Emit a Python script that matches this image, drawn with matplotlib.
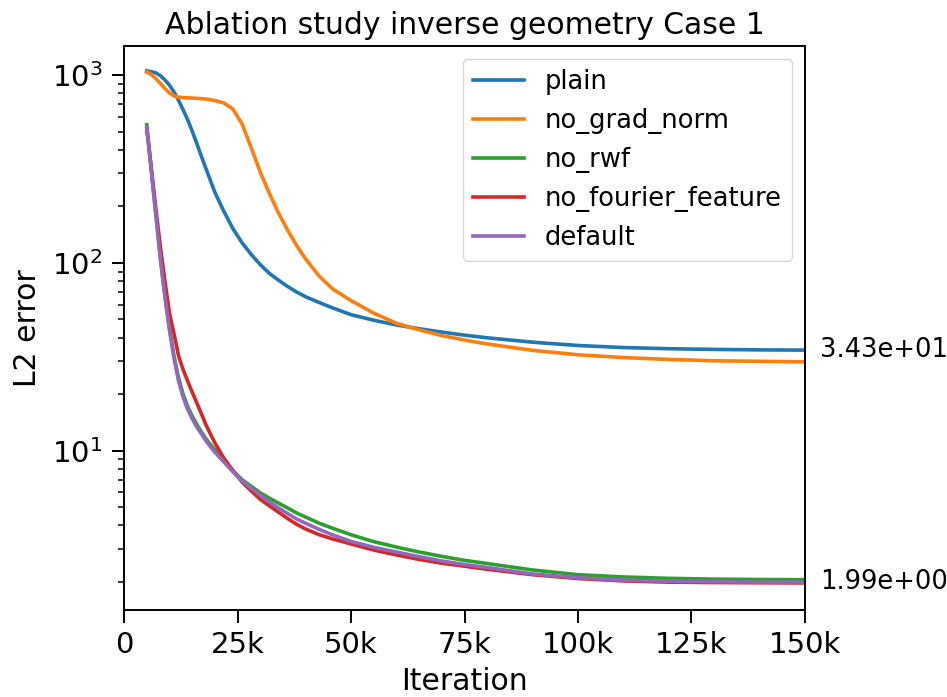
import matplotlib
matplotlib.use("Agg")
import matplotlib.pyplot as plt
from matplotlib.ticker import FuncFormatter

# iteration (in thousands) at which the curves were sampled
iters_k = [5, 6, 7, 8, 9, 10, 11, 12, 13, 14, 15, 16, 17, 18, 19, 20, 22, 24, 26, 28,
           30, 32, 34, 36, 38, 40, 43, 46, 50, 55, 60, 65, 70, 75, 80, 90, 100, 110,
           120, 130, 140, 150]

plain = [1055, 1045, 1030, 995, 945, 885, 815, 735, 655, 580, 505, 435, 372, 320, 276,
         238, 188, 152, 128, 111, 98, 88, 81, 75, 70, 66, 61.5, 57.5, 53, 49.5, 46.7,
         44.6, 42.8, 41.2, 39.9, 37.8, 36.3, 35.4, 34.9, 34.6, 34.4, 34.3]

no_grad_norm = [1040, 1010, 960, 905, 850, 805, 777, 765, 760, 758, 756, 754, 751, 747,
                741, 733, 712, 660, 550, 412, 305, 235, 185, 150, 124, 105, 85, 72.5, 63,
                54, 47.7, 44, 41, 38.8, 37, 34.2, 32.4, 31.3, 30.6, 30.1, 29.9, 29.7]

no_rwf = [545, 315, 183, 107, 67, 45, 32, 24.5, 20, 17.2, 15.3, 13.8, 12.6, 11.6, 10.8,
          10.1, 8.9, 7.8, 7.0, 6.45, 5.95, 5.58, 5.25, 4.95, 4.65, 4.42, 4.1, 3.85, 3.56,
          3.27, 3.06, 2.88, 2.73, 2.6, 2.5, 2.31, 2.18, 2.12, 2.085, 2.065, 2.055, 2.05]

no_fourier_feature = [520, 320, 195, 122, 80, 54, 42, 32, 27, 23.5, 20.5, 18, 15.8,
                      13.8, 12.3, 11, 9.1, 7.8, 6.8, 6.1, 5.5, 5.08, 4.7, 4.35, 4.05, 3.82,
                      3.56, 3.38, 3.18, 2.95, 2.78, 2.63, 2.51, 2.42, 2.33, 2.18, 2.08,
                      2.02, 1.99, 1.98, 1.975, 1.97]

default = [530, 310, 180, 105, 66, 44, 31, 23.5, 19.3, 16.6, 14.8, 13.4, 12.3, 11.3,
           10.5, 9.8, 8.7, 7.7, 6.9, 6.3, 5.8, 5.32, 4.95, 4.62, 4.32, 4.1, 3.8, 3.55,
           3.28, 3.05, 2.88, 2.72, 2.58, 2.47, 2.38, 2.2, 2.1, 2.04, 2.01, 2.0, 1.99, 1.99]

series = {
    "plain": plain,
    "no_grad_norm": no_grad_norm,
    "no_rwf": no_rwf,
    "no_fourier_feature": no_fourier_feature,
    "default": default,
}
colors = ["#1f77b4", "#ff7f0e", "#2ca02c", "#d62728", "#9467bd"]

plt.rcParams["font.family"] = "DejaVu Sans"
plt.rcParams["font.size"] = 20
plt.rcParams["axes.linewidth"] = 1.4

iters = [k * 1000 for k in iters_k]

fig = plt.figure(figsize=(9.47, 6.97), dpi=100)
ax = fig.add_axes([0.131, 0.125, 0.719, 0.809])

for (name, vals), c in zip(series.items(), colors):
    ax.plot(iters, vals, color=c, lw=2.6, label=name)

# final values printed next to the right spine
for vals in (plain, default):
    ax.annotate(f"{vals[-1]:.2e}", xy=(iters[-1], vals[-1]), xytext=(11, 0),
                textcoords="offset points", va="center", ha="left", fontsize=18.5,
                annotation_clip=False)

ax.set_yscale("log")
ax.set_xlim(0, 150000)
ax.set_ylim(1.416, 1432)
ax.xaxis.set_major_formatter(FuncFormatter(lambda v, p: "0" if v == 0 else f"{int(v / 1000)}k"))
ax.set_xticks(range(0, 150001, 25000))

ax.tick_params(which="major", length=9, width=1.4, labelsize=21)
ax.tick_params(which="minor", length=4.5, width=1.1)
ax.tick_params(axis="x", which="major", pad=6)
ax.tick_params(axis="y", which="major", pad=6.5)

ax.set_xlabel("Iteration", fontsize=21.5, labelpad=6)
ax.set_ylabel("L2 error", fontsize=21.5, labelpad=7)
ax.set_title("Ablation study inverse geometry Case 1", fontsize=21.5, pad=9)
ax.legend(loc="upper right", fontsize=18.5)

fig.savefig("out.png", dpi=100)
